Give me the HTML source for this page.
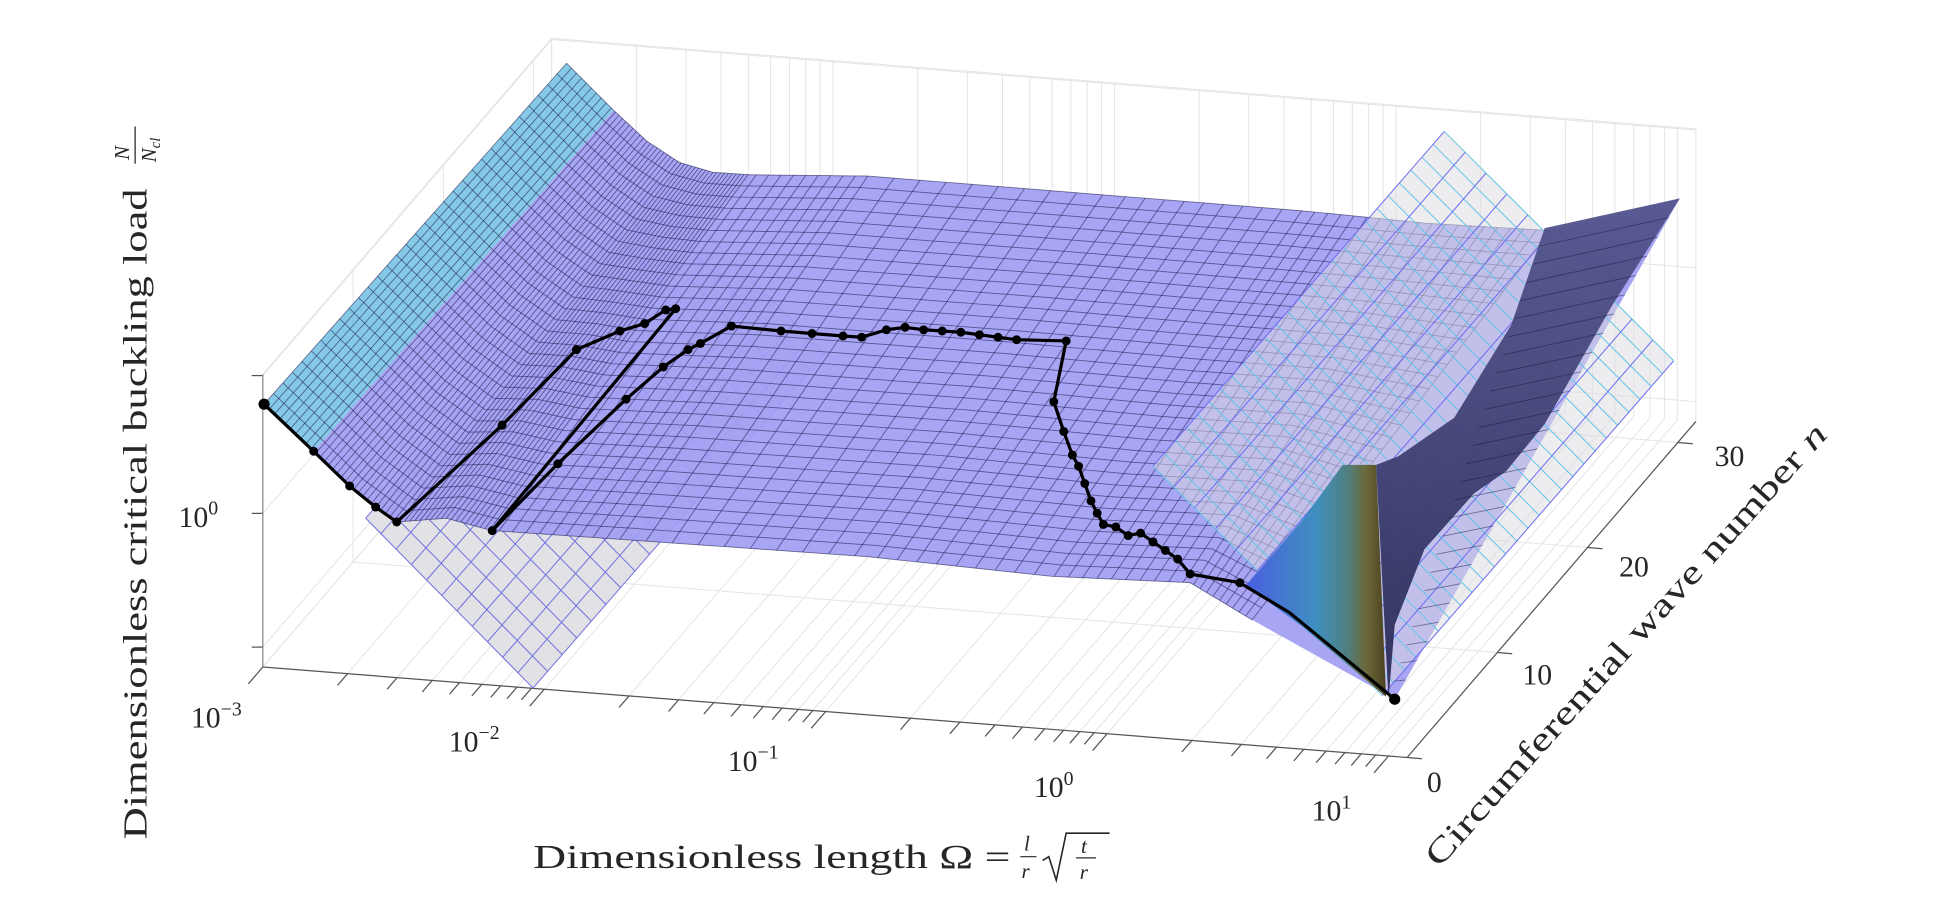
<!DOCTYPE html>
<html><head><meta charset="utf-8">
<style>
html,body{margin:0;padding:0;background:#fff;}
svg{display:block;}
text{font-family:"Liberation Serif",serif;fill:#262626;}
</style></head>
<body>
<svg id="s" xmlns="http://www.w3.org/2000/svg" width="1934" height="910" viewBox="0 0 1560 734" preserveAspectRatio="none">
<defs>
<linearGradient id="navy" x1="0" y1="0" x2="0" y2="1">
<stop offset="0" stop-color="#55558f"/><stop offset="1" stop-color="#2c2c58"/>
</linearGradient>
<linearGradient id="spk" x1="0" y1="0" x2="1" y2="0">
<stop offset="0" stop-color="#4a5fe0"/><stop offset="0.5" stop-color="#3f8fc0"/><stop offset="0.72" stop-color="#4f8080"/><stop offset="0.86" stop-color="#6c6838"/><stop offset="1" stop-color="#4a4020"/>
</linearGradient>
</defs>
<g id="grid" stroke="#e4e4e4" stroke-width="0.8" fill="none"></g>
<g id="axes" stroke="#555" stroke-width="1" fill="none"></g>
<g id="lplane"></g>
<polygon points="213,326 253,364 495,89 457,51" fill="#7ec6e6" opacity="0.95"/>
<polygon id="surf" fill="#a29df4" opacity="0.92"/>
<g id="mesh" stroke="#1e1e50" stroke-opacity="0.6" stroke-width="0.7" fill="none"></g>
<g id="rplane"></g>
<polygon points="1246,184 1355,160 1300,247 1246,342 1215,380 1189,398 1149,443 1125,504 1120,564 1110,375 1128,368 1173,337 1219,262" fill="url(#navy)" opacity="0.95"/>
<g id="navymesh" stroke="#15153a" stroke-opacity="0.5" stroke-width="0.7"></g>
<polygon points="1083,375 1110,375 1118,562 1050,505 1005,472 1050,420" fill="url(#spk)"/>
<g id="curve"></g>

<g font-size="24">
<text x="154" y="587">10<tspan dy="-10" font-size="16">−3</tspan></text>
<text x="362" y="606">10<tspan dy="-10" font-size="16">−2</tspan></text>
<text x="587" y="622">10<tspan dy="-10" font-size="16">−1</tspan></text>
<text x="834" y="643">10<tspan dy="-10" font-size="16">0</tspan></text>
<text x="1058" y="662">10<tspan dy="-10" font-size="16">1</tspan></text>
<text x="144" y="425">10<tspan dy="-10" font-size="16">0</tspan></text>
<text x="1395" y="376" text-anchor="middle">30</text>
<text x="1318" y="465" text-anchor="middle">20</text>
<text x="1240" y="552" text-anchor="middle">10</text>
<text x="1157" y="639" text-anchor="middle">0</text>
</g>
<g font-size="27">
<text x="430" y="700" textLength="385" lengthAdjust="spacingAndGlyphs">Dimensionless length Ω =</text>
<text x="826" y="686" font-size="17" font-style="italic">l</text>
<line x1="823" y1="691" x2="836" y2="691" stroke="#262626" stroke-width="1"/>
<text x="824" y="708" font-size="17" font-style="italic">r</text>
<polyline points="841,694 846,691 852,710 860,672 895,672" fill="none" stroke="#262626" stroke-width="1.3"/>
<text x="872" y="688" font-size="17" font-style="italic">t</text>
<line x1="868" y1="692" x2="884" y2="692" stroke="#262626" stroke-width="1"/>
<text x="871" y="709" font-size="17" font-style="italic">r</text>
</g>
<g transform="translate(118,677) rotate(-90)" font-size="27">
<text x="0" y="0" textLength="525" lengthAdjust="spacingAndGlyphs">Dimensionless critical buckling load</text>
<text x="548" y="-14" font-size="17" font-style="italic">N</text>
<line x1="545" y1="-9" x2="575" y2="-9" stroke="#262626" stroke-width="1"/>
<text x="546" y="8" font-size="17" font-style="italic">N<tspan font-size="12" dy="3">cl</tspan></text>
</g>
<g transform="translate(1318,526) rotate(-48)" font-size="27">
<text x="0" y="0" text-anchor="middle" textLength="470" lengthAdjust="spacingAndGlyphs">Circumferential wave number <tspan font-style="italic">n</tspan></text>
</g>
</svg>
<script>
(function(){
var NS="http://www.w3.org/2000/svg";
function el(p,t,a){var e=document.createElementNS(NS,t);for(var k in a)e.setAttribute(k,a[k]);p.appendChild(e);return e;}
function P(lx,n,z){return [212+(lx+3)*227+n*7.28, 538+(lx+3)*17.95-n*8.47-z*236];}
function ln(g,a,b,extra){var o={x1:a[0],y1:a[1],x2:b[0],y2:b[1]};if(extra)for(var k in extra)o[k]=extra[k];el(g,'line',o);}
var grid=document.getElementById('grid'),axes=document.getElementById('axes');
var LXMAX=1.066, NMAX=32;
var ticks=[];
for(var d=-3;d<=1;d++){for(var k=1;k<=9;k++){var v=d+Math.log10(k);if(v<=LXMAX+1e-6)ticks.push([v,k==1]);}}
ticks.forEach(function(t){
 ln(grid,P(t[0],0,0),P(t[0],NMAX,0));
 ln(grid,P(t[0],NMAX,0),P(t[0],NMAX,1));
 var a=P(t[0],0,0),L=t[1]?1.6:1.1;
 ln(axes,a,[a[0]-7.28*L,a[1]+8.47*L]);
});
[10,20,30].forEach(function(n){
 ln(grid,P(-3,n,0),P(LXMAX,n,0));
 ln(grid,P(-3,n,0),P(-3,n,1));
 var a=P(LXMAX,n,0); ln(axes,a,[a[0]+12,a[1]+1]);
});
var a0=P(LXMAX,0,0); ln(axes,a0,[a0[0]+12,a0[1]+1]);
[0.068,0.525,0.996].forEach(function(z){
 ln(grid,P(-3,0,z),P(-3,NMAX,z));
 ln(grid,P(-3,NMAX,z),P(LXMAX,NMAX,z));
 var a=P(-3,0,z); ln(axes,a,[a[0]-9,a[1]]);
});
ln(grid,P(-3,NMAX,1),P(LXMAX,NMAX,1));
ln(grid,P(-3,0,1),P(-3,NMAX,1));
ln(grid,P(-3,NMAX,0),P(-3,NMAX,1));
ln(grid,P(LXMAX,NMAX,0),P(LXMAX,NMAX,1));
ln(grid,P(-3,0,0),P(-3,NMAX,0));
ln(axes,P(-3,0,0),P(LXMAX,0,0));
ln(axes,P(LXMAX,0,0),P(LXMAX,NMAX,0));
ln(axes,P(-3,0,0),P(-3,0,1),{stroke:'#888'});

function plane(g,L,B,R,T,nu,nv,c1,c2,fop){
 el(g,'polygon',{points:[L,B,R,T].map(function(p){return p.join(',')}).join(' '),fill:'#dcdce2','fill-opacity':fop});
 var i,t;
 for(i=0;i<=nu;i++){t=i/nu;var a=[B[0]+(R[0]-B[0])*t,B[1]+(R[1]-B[1])*t],b=[L[0]+(T[0]-L[0])*t,L[1]+(T[1]-L[1])*t];
  ln(g,a,b,{stroke:c1,'stroke-width':0.8});}
 for(i=0;i<=nv;i++){t=i/nv;var a2=[L[0]+(B[0]-L[0])*t,L[1]+(B[1]-L[1])*t],b2=[T[0]+(R[0]-T[0])*t,T[1]+(R[1]-T[1])*t];
  ln(g,a2,b2,{stroke:c2,'stroke-width':0.8});}
}
plane(document.getElementById('lplane'),[295,418],[430,555],[665,285],[530,148],20,11,'#7070e0','#7070e0',0.85);

var F=[[213,326],[253,364],[285,395],[320,421],[360,418],[397,428],[500,435],[700,449],[850,465],[960,470],[1010,500],[1125,564]];
var K=[[457,51],[495,89],[522,114],[548,131],[575,139],[605,141],[700,142],[900,158],[1050,170],[1150,180],[1250,186],[1355,160]];
function S(s,v){var i=Math.min(Math.floor(s),F.length-2),t=s-i;
 var f=[F[i][0]+(F[i+1][0]-F[i][0])*t,F[i][1]+(F[i+1][1]-F[i][1])*t];
 var k=[K[i][0]+(K[i+1][0]-K[i][0])*t,K[i][1]+(K[i+1][1]-K[i][1])*t];
 return [f[0]+(k[0]-f[0])*v,f[1]+(k[1]-f[1])*v];}
var pts=[];for(var i=1;i<F.length;i++)pts.push(F[i].join(','));for(i=K.length-1;i>=1;i--)pts.push(K[i].join(','));
document.getElementById('surf').setAttribute('points',pts.join(' '));
var mesh=document.getElementById('mesh');
var SMAX=F.length-2;
for(var j=0;j<=32;j++){var v=j/32,pp=[];for(var s=0;s<=SMAX+0.0001;s+=0.05)pp.push(S(s,v).map(function(x){return x.toFixed(1)}).join(','));
 el(mesh,'polyline',{points:pp.join(' ')});}
var NS_=95;for(j=0;j<=NS_;j++){var s2=SMAX*j/NS_;ln(mesh,S(s2,0),S(s2,1));}
var nm=document.getElementById('navymesh');
for(j=1;j<26;j++){var t=j/26;ln(nm,[1246-126*t,184+380*t],[1355-230*t,160+404*t]);}

plane(document.getElementById('rplane'),[930,376],[1115,561],[1350,291],[1165,106],26,11,'#62c4e6','#6a6af0',0.5);

var c=document.getElementById('curve');
var path=[[213,326],[253,364],[282,392],[303,409],[320,421],[405,343],[465,282],[500,267],[520,261],[537,250],[545,249],[397,428],[450,374],[505,322],[535,296],[555,282],[565,277],[590,263],[630,267],[655,269],[680,271],[695,272],[715,266],[730,264],[745,266],[760,267],[775,268],[790,270],[805,272],[820,274],[860,275],[850,324],[858,348],[865,367],[870,376],[875,390],[880,404],[885,414],[890,423],[900,425],[910,432],[920,430],[930,437],[940,444],[950,451],[960,463],[1000,470],[1040,494],[1125,564]];
el(c,'polyline',{points:path.map(function(p){return p.join(',')}).join(' '),fill:'none',stroke:'#000','stroke-width':2.6,'stroke-linejoin':'round'});
path.forEach(function(p,i){if(i==path.length-2)return;el(c,'circle',{cx:p[0],cy:p[1],r:(i==0||i==path.length-1)?4.5:3.6,fill:'#000'});});
})();
</script>
</body></html>
